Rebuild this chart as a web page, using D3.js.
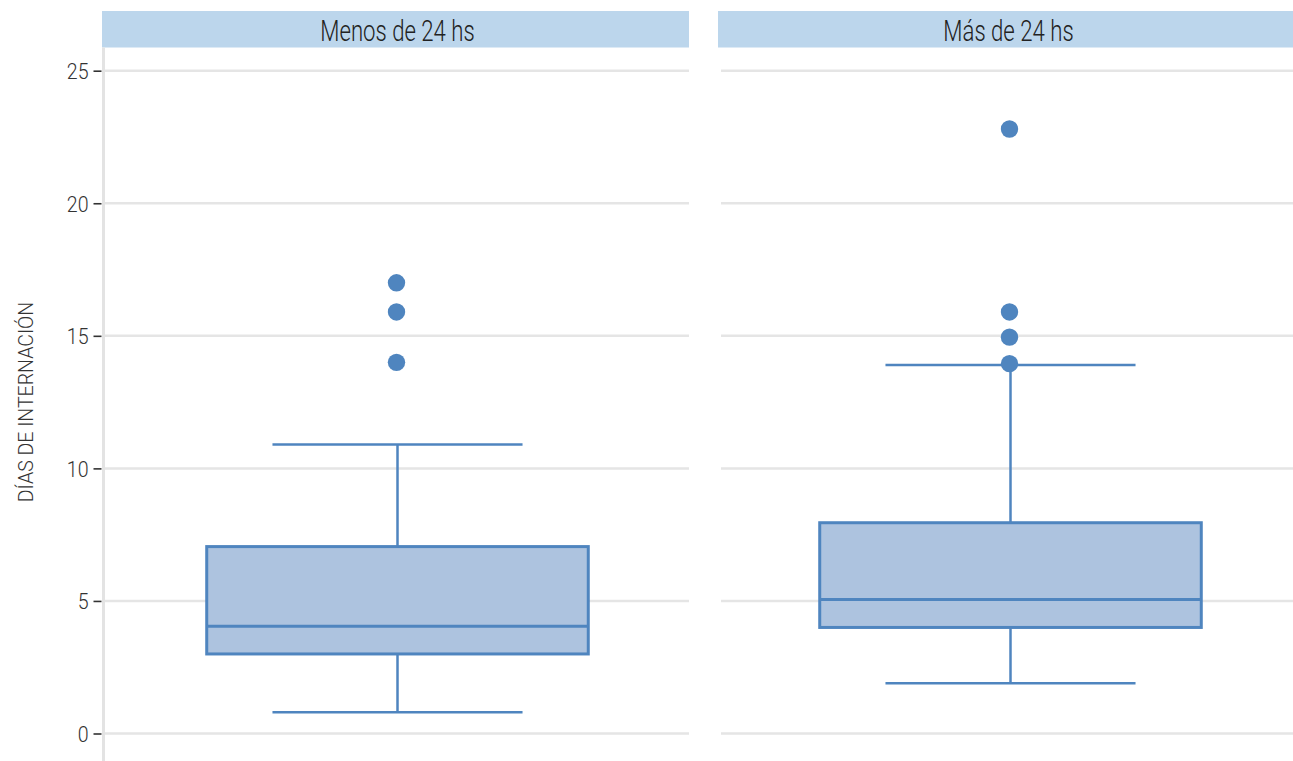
<!DOCTYPE html>
<html>
<head>
<meta charset="utf-8">
<script src="https://cdn.jsdelivr.net/npm/d3@7"></script>
<style>
  html, body { margin: 0; padding: 0; background: #fff; }
  svg { display: block; }
  text { font-family: Roboto, "Liberation Sans", sans-serif; font-weight: 300; }
</style>
</head>
<body>
<svg id="chart" width="1293" height="761"></svg>
<script>
// Facets (groups by time to admission)
const groups = ["Menos de 24 hs", "Más de 24 hs"];

// Box statistics per group, in days
const whiskerLow  = [0.8, 1.9];
const q1          = [3, 4];
const medians     = [4.05, 5.05];
const q3          = [7.05, 7.95];
const whiskerHigh = [10.9, 13.9];

// Outlying stays, in days
const outliersMenos = [17, 15.9, 14];
const outliersMas   = [22.8, 15.9, 14.95, 13.95];

// Y axis ticks
const yTicks = [0, 5, 10, 15, 20, 25];
const yTitle = "DÍAS DE INTERNACIÓN";

const outliers = [outliersMenos, outliersMas];

const svg = d3.select("#chart");

const stripTop = 11, stripH = 36.5;
const panelW = 587, panelGap = 29, panelLeft = 102;

// Facet positions
const fx = d3.scaleBand()
  .domain(groups)
  .range([panelLeft, panelLeft + groups.length * panelW + (groups.length - 1) * panelGap])
  .paddingInner(panelGap / (panelW + panelGap));

const y = d3.scaleLinear().domain([0, 25]).range([733.5, 70.7]);

const boxFrac = 0.65, capFrac = 0.426;
const boxShift = [2, -1];

const stroke = "#4f85bf", fill = "#adc3df", grid = "#e5e5e5";

groups.forEach((g, i) => {
  const x0 = fx(g), w = fx.bandwidth();
  const panel = svg.append("g");

  // Strip header
  panel.append("rect")
    .attr("x", x0).attr("y", stripTop)
    .attr("width", w).attr("height", stripH)
    .attr("fill", "#bcd6ec");
  const tx = x0 + w / 2 + (i === 0 ? 2 : -3);
  panel.append("text")
    .attr("transform", `translate(${tx},40.7) scale(0.765,1)`)
    .attr("text-anchor", "middle")
    .attr("font-size", 29).attr("fill", "#222")
    .text(g);

  // Grid lines
  const gx0 = i === 0 ? x0 + 2 : x0 + 3;
  panel.selectAll("line.grid").data(yTicks).join("line")
    .attr("class", "grid")
    .attr("x1", gx0).attr("x2", x0 + w)
    .attr("y1", d => y(d)).attr("y2", d => y(d))
    .attr("stroke", grid).attr("stroke-width", 2.5);

  // Box plot
  const cx = x0 + w / 2 + boxShift[i];
  const bw = w * boxFrac, cw = w * capFrac;
  const lw = 2.5;

  panel.append("line")
    .attr("x1", cx).attr("x2", cx)
    .attr("y1", y(whiskerHigh[i])).attr("y2", y(q3[i]))
    .attr("stroke", stroke).attr("stroke-width", lw);
  panel.append("line")
    .attr("x1", cx).attr("x2", cx)
    .attr("y1", y(q1[i])).attr("y2", y(whiskerLow[i]))
    .attr("stroke", stroke).attr("stroke-width", lw);
  [whiskerHigh[i], whiskerLow[i]].forEach(v => {
    panel.append("line")
      .attr("x1", cx - cw / 2).attr("x2", cx + cw / 2)
      .attr("y1", y(v)).attr("y2", y(v))
      .attr("stroke", stroke).attr("stroke-width", lw);
  });
  panel.append("rect")
    .attr("x", cx - bw / 2).attr("y", y(q3[i]))
    .attr("width", bw).attr("height", y(q1[i]) - y(q3[i]))
    .attr("fill", fill).attr("stroke", stroke).attr("stroke-width", 3);
  panel.append("line")
    .attr("x1", cx - bw / 2).attr("x2", cx + bw / 2)
    .attr("y1", y(medians[i])).attr("y2", y(medians[i]))
    .attr("stroke", stroke).attr("stroke-width", 3);

  panel.selectAll("circle").data(outliers[i]).join("circle")
    .attr("cx", cx - 1).attr("cy", d => y(d)).attr("r", 8.7)
    .attr("fill", stroke);
});

// Y axis
const axisX = 103.5;
svg.append("line")
  .attr("x1", axisX).attr("x2", axisX)
  .attr("y1", stripTop + stripH).attr("y2", 761)
  .attr("stroke", "#e3e3e3").attr("stroke-width", 3);

const yAxis = svg.append("g")
  .attr("transform", `translate(${axisX - 2},0)`)
  .call(d3.axisLeft(y).tickValues(yTicks).tickSize(8).tickPadding(0));
yAxis.select(".domain").remove();
yAxis.selectAll(".tick line").attr("stroke", "#333").attr("stroke-width", 1.6);
yAxis.selectAll(".tick text")
  .attr("x", null).attr("dy", null)
  .attr("transform", "translate(-13,8) scale(0.87,1)")
  .attr("font-size", 22.5).attr("fill", "#333")
  .style("font-family", "Roboto, sans-serif").style("font-weight", 300);

svg.append("text")
  .attr("transform", "translate(33.3, 402) rotate(-90) scale(0.93,1)")
  .attr("text-anchor", "middle")
  .attr("font-size", 21).attr("fill", "#333")
  .text(yTitle);
</script>
</body>
</html>
